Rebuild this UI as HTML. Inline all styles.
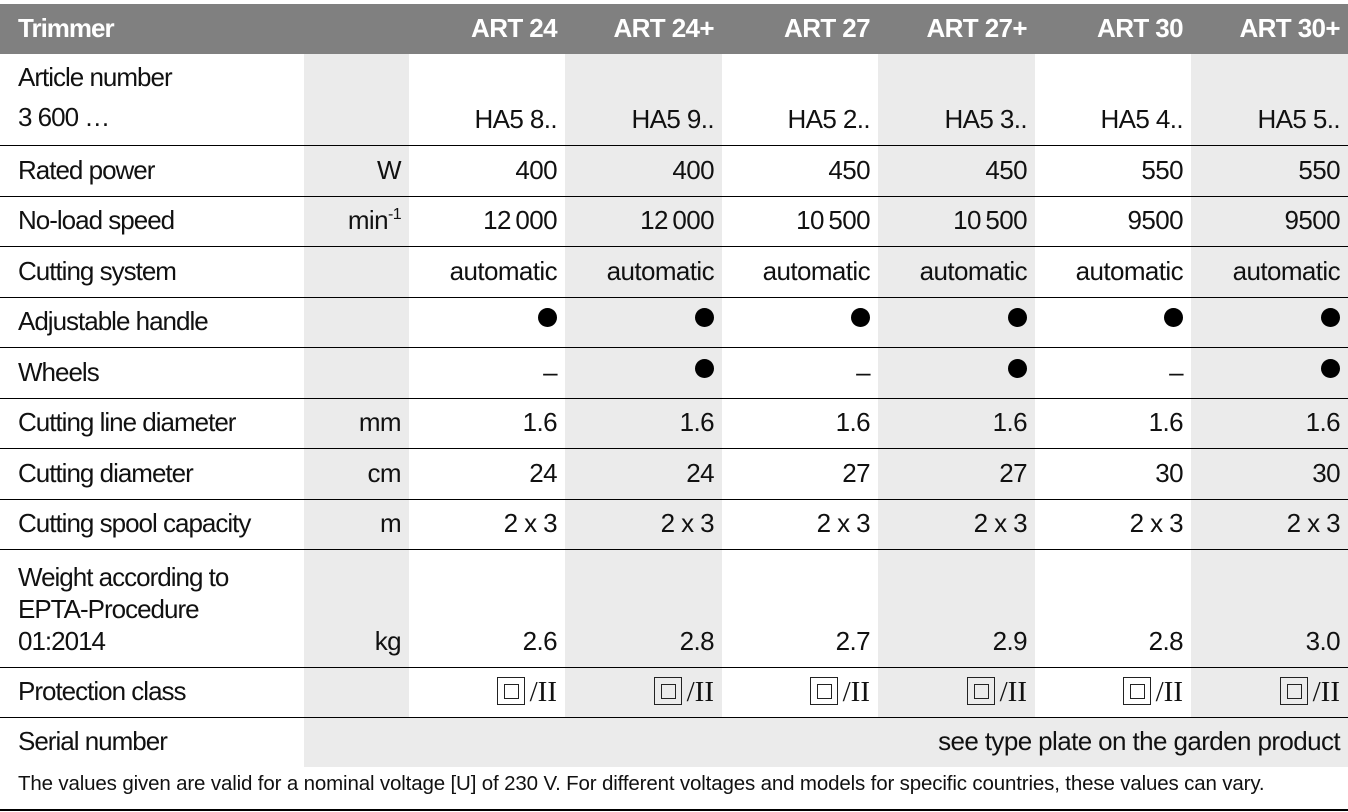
<!DOCTYPE html>
<html><head><meta charset="utf-8"><style>
html,body{margin:0;padding:0;background:#fff;}
body{width:1348px;height:812px;overflow:hidden;position:relative;font-family:"Liberation Sans",Arial,sans-serif;}
table{position:absolute;left:0;top:4px;border-collapse:collapse;table-layout:fixed;width:1348px;}
td{padding:0 8px 0 0;font-size:26px;letter-spacing:-0.6px;color:#111;text-align:right;vertical-align:bottom;box-sizing:border-box;border-bottom:1.5px solid #000;padding-bottom:10px;white-space:nowrap;}
td.l{text-align:left;padding-left:18px;line-height:32px;letter-spacing:-1px;}
tr.h td{background:#808080;color:#fff;font-weight:bold;border-bottom:none;padding-bottom:10px;}
.g{background:#ebebeb;}
.b{display:inline-block;width:19px;height:19px;border-radius:50%;background:#000;margin-bottom:3px;}
.pc{font-family:"Liberation Serif",serif;letter-spacing:0;font-size:29px;padding-bottom:8px;}
.sq{display:inline-block;width:28px;height:28px;border:1.5px solid #222;position:relative;vertical-align:-4px;margin-right:5px;box-sizing:border-box;}
.sq:after{content:"";position:absolute;left:6px;top:6px;width:13px;height:13px;border:1.5px solid #222;}
sup{font-size:16px;vertical-align:10px;line-height:0;}
.foot{position:absolute;left:18px;top:772px;font-size:20.5px;letter-spacing:-0.15px;color:#111;white-space:nowrap;}
.fl{position:absolute;left:0;top:809px;width:1348px;height:1.5px;background:#000;}
</style></head><body>
<table>
<colgroup><col style="width:304px"><col style="width:105px"><col style="width:156px"><col style="width:157px"><col style="width:156px"><col style="width:157px"><col style="width:156px"><col style="width:157px"></colgroup>
<tr class="h" style="height:50px"><td class="l">Trimmer</td><td></td><td>ART 24</td><td>ART 24+</td><td>ART 27</td><td>ART 27+</td><td>ART 30</td><td>ART 30+</td></tr>
<tr style="height:91px"><td class="l" style="line-height:40px;padding-bottom:8px">Article number<br>3 600 …</td><td class="g"></td><td>HA5 8..</td><td class="g">HA5 9..</td><td>HA5 2..</td><td class="g">HA5 3..</td><td>HA5 4..</td><td class="g">HA5 5..</td></tr>
<tr style="height:51px"><td class="l">Rated power</td><td class="g">W</td><td>400</td><td class="g">400</td><td>450</td><td class="g">450</td><td>550</td><td class="g">550</td></tr>
<tr style="height:50px"><td class="l">No-load speed</td><td class="g">min<sup>-1</sup></td><td>12&#8201;000</td><td class="g">12&#8201;000</td><td>10&#8201;500</td><td class="g">10&#8201;500</td><td>9500</td><td class="g">9500</td></tr>
<tr style="height:51px"><td class="l">Cutting system</td><td class="g"></td><td>automatic</td><td class="g">automatic</td><td>automatic</td><td class="g">automatic</td><td>automatic</td><td class="g">automatic</td></tr>
<tr style="height:50px"><td class="l">Adjustable handle</td><td class="g"></td><td><span class="b"></span></td><td class="g"><span class="b"></span></td><td><span class="b"></span></td><td class="g"><span class="b"></span></td><td><span class="b"></span></td><td class="g"><span class="b"></span></td></tr>
<tr style="height:51px"><td class="l">Wheels</td><td class="g"></td><td>–</td><td class="g"><span class="b"></span></td><td>–</td><td class="g"><span class="b"></span></td><td>–</td><td class="g"><span class="b"></span></td></tr>
<tr style="height:50px"><td class="l">Cutting line diameter</td><td class="g">mm</td><td>1.6</td><td class="g">1.6</td><td>1.6</td><td class="g">1.6</td><td>1.6</td><td class="g">1.6</td></tr>
<tr style="height:51px"><td class="l">Cutting diameter</td><td class="g">cm</td><td>24</td><td class="g">24</td><td>27</td><td class="g">27</td><td>30</td><td class="g">30</td></tr>
<tr style="height:50px"><td class="l">Cutting spool capacity</td><td class="g">m</td><td>2 x 3</td><td class="g">2 x 3</td><td>2 x 3</td><td class="g">2 x 3</td><td>2 x 3</td><td class="g">2 x 3</td></tr>
<tr style="height:118px"><td class="l">Weight according to<br>EPTA-Procedure<br>01:2014</td><td class="g">kg</td><td>2.6</td><td class="g">2.8</td><td>2.7</td><td class="g">2.9</td><td>2.8</td><td class="g">3.0</td></tr>
<tr style="height:50px"><td class="l">Protection class</td><td class="g"></td><td class="pc"><span class="sq"></span>/II</td><td class="g pc"><span class="sq"></span>/II</td><td class="pc"><span class="sq"></span>/II</td><td class="g pc"><span class="sq"></span>/II</td><td class="pc"><span class="sq"></span>/II</td><td class="g pc"><span class="sq"></span>/II</td></tr>
<tr style="height:50px"><td class="l" style="border-bottom:none">Serial number</td><td class="g" colspan="7" style="border-bottom:none">see type plate on the garden product</td></tr>
</table>
<div class="foot">The values given are valid for a nominal voltage [U] of 230 V. For different voltages and models for specific countries, these values can vary.</div>
<div class="fl"></div>
</body></html>
